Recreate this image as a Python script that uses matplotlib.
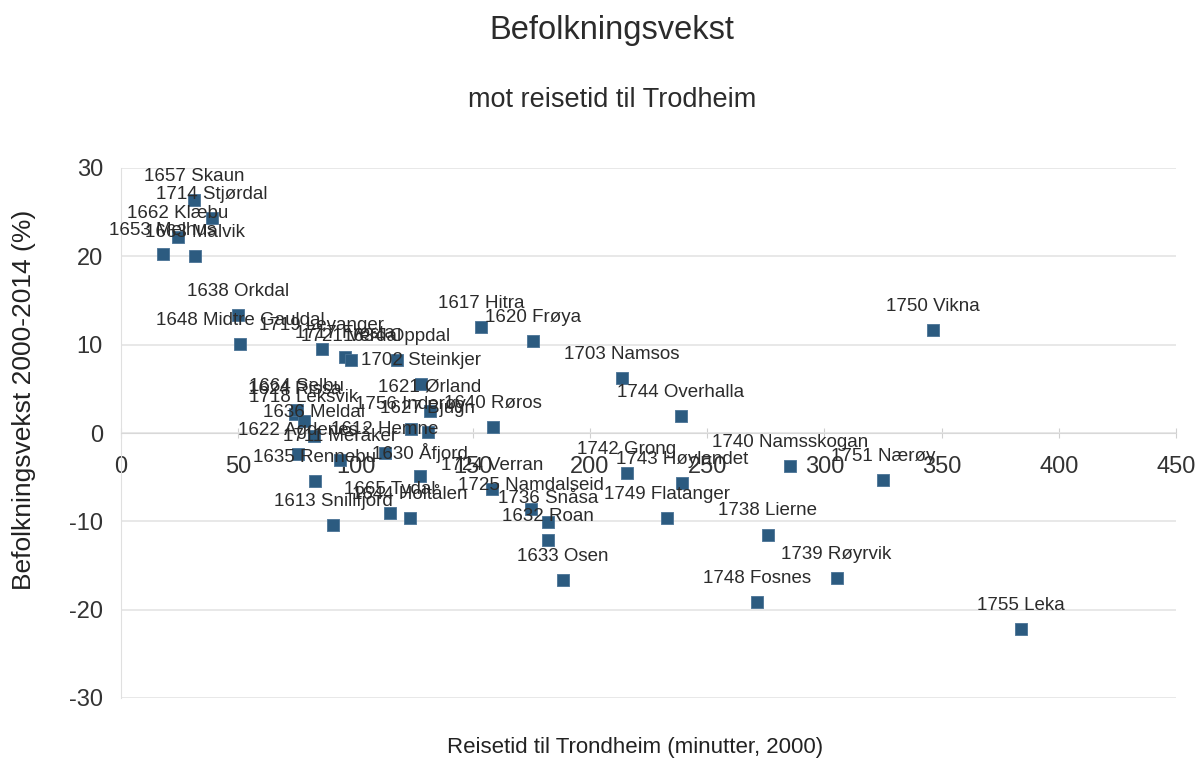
import numpy as np
import matplotlib
matplotlib.use("Agg")
import matplotlib.pyplot as plt

plt.rcParams['font.family'] = ['Liberation Sans', 'DejaVu Sans']
plt.rcParams['axes.unicode_minus'] = False

# kommune, reisetid (min, 2000), befolkningsvekst 2000-2014 (%)
kommuner = ["1612 Hemne", "1613 Snillfjord", "1617 Hitra", "1620 Frøya", "1621 Ørland",
            "1622 Agdenes", "1624 Rissa", "1627 Bjugn", "1630 Åfjord", "1632 Roan",
            "1633 Osen", "1634 Oppdal", "1635 Rennebu", "1636 Meldal", "1638 Orkdal",
            "1640 Røros", "1644 Holtålen", "1648 Midtre Gauldal", "1653 Melhus", "1657 Skaun",
            "1662 Klæbu", "1663 Malvik", "1664 Selbu", "1665 Tydal", "1702 Steinkjer",
            "1703 Namsos", "1711 Meråker", "1714 Stjørdal", "1717 Frosta", "1718 Leksvik",
            "1719 Levanger", "1721 Verdal", "1724 Verran", "1725 Namdalseid", "1736 Snåsa",
            "1738 Lierne", "1739 Røyrvik", "1740 Namsskogan", "1742 Grong", "1743 Høylandet",
            "1744 Overhalla", "1748 Fosnes", "1749 Flatanger", "1750 Vikna", "1751 Nærøy",
            "1755 Leka", "1756 Inderøy"]
reisetid = [112.6, 90.4, 153.5, 175.6, 131.7,
            75.5, 74.2, 130.9, 127.5, 182.0,
            188.4, 117.7, 82.7, 82.3, 49.9,
            158.6, 123.2, 50.7, 17.9, 31.1,
            24.3, 31.5, 75.0, 114.7, 127.9,
            213.6, 93.4, 38.8, 95.5, 78.0,
            85.7, 98.1, 158.2, 174.8, 182.0,
            275.8, 305.2, 285.2, 215.7, 239.2,
            238.7, 271.1, 232.8, 346.2, 324.9,
            383.7, 123.6]
vekst = [-2.3, -10.4, 12.0, 10.4, 2.5,
         -2.4, 2.2, 0.1, -4.9, -12.1,
         -16.6, 8.3, -5.4, -0.3, 13.4,
         0.7, -9.6, 10.1, 20.3, 26.4,
         22.2, 20.0, 2.6, -9.1, 5.5,
         6.2, -3.1, 24.3, 8.6, 1.4,
         9.5, 8.3, -6.3, -8.6, -10.1,
         -11.5, -16.4, -3.7, -4.5, -5.7,
         1.9, -19.1, -9.6, 11.7, -5.3,
         -22.2, 0.5]

xticks = [0, 50, 100, 150, 200, 250, 300, 350, 400, 450]
yticks = [-30, -20, -10, 0, 10, 20, 30]

fig = plt.figure(figsize=(12.01, 7.62), dpi=100)
ax = fig.add_axes([121/1201, 1-698/762, (1176-121)/1201, (698-168)/762])

ax.scatter(reisetid, vekst, marker='s', s=70, color='#2c5b80', edgecolors='#4a7396',
           linewidths=0.6, zorder=3)
for navn, x, y in zip(kommuner, reisetid, vekst):
    ax.annotate(navn, (x, y), xytext=(0, 17), textcoords='offset points',
                ha='center', va='center', fontsize=13.5, color='#2b2b2b', zorder=4)

ax.set_xlim(0, 450)
ax.set_ylim(-30, 30)
ax.set_xticks(xticks)
ax.set_yticks(yticks)
ax.grid(axis='y', color='#e4e4e4', linewidth=1.2)
ax.set_axisbelow(True)

for s in ['top', 'right']:
    ax.spines[s].set_visible(False)
ax.spines['bottom'].set_position(('data', 0))
ax.spines['bottom'].set_color('#d8d8d8')
ax.spines['left'].set_color('#e0e0e0')
ax.tick_params(axis='x', direction='inout', length=7, color='#d0d0d0', pad=13,
               labelsize=17, labelcolor='#333333')
ax.tick_params(axis='y', length=0, pad=13, labelsize=17, labelcolor='#333333')

ax.set_ylabel('Befolkningsvekst 2000-2014 (%)', fontsize=19, color='#222222')
ax.yaxis.set_label_coords(-0.081, 0.562)

fig.text(635/1201, 1-748/762, 'Reisetid til Trondheim (minutter, 2000)',
         ha='center', va='center', fontsize=16, color='#222222')
fig.text(612/1201, 1-31/762, 'Befolkningsvekst', ha='center', va='center',
         fontsize=23.5, color='#2b2b2b')
fig.text(612/1201, 1-100/762, 'mot reisetid til Trodheim', ha='center', va='center',
         fontsize=19.5, color='#2b2b2b')

fig.savefig('out.png', dpi=100)
